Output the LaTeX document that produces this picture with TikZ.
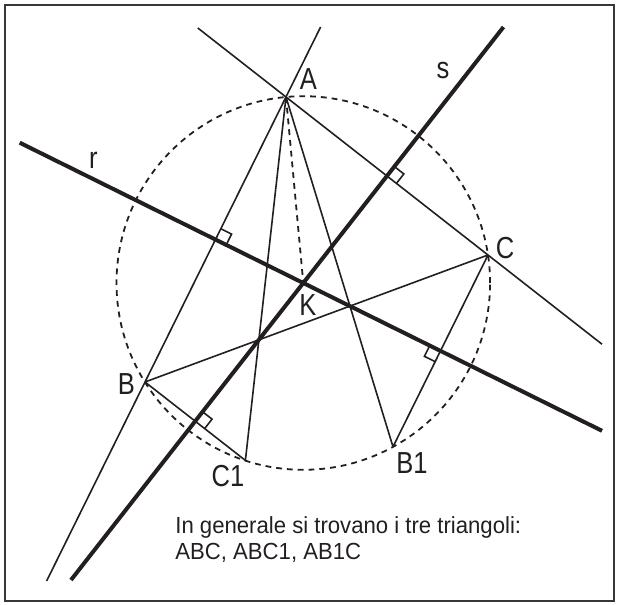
\documentclass[tikz,border=0pt]{standalone}
\usepackage{fontspec}
\setmainfont{Liberation Sans}
\newfontfamily\labelfont{Liberation Sans}[FakeStretch=0.84]
\newfontfamily\notefont{Liberation Sans}[FakeStretch=0.95]
\usetikzlibrary{calc}
\definecolor{ink}{RGB}{35,31,32}
\definecolor{framegray}{RGB}{55,55,55}

\begin{document}
\begin{tikzpicture}[x=0.5pt,y=-0.5pt,
        thin line/.style={draw=ink,line width=0.8pt},
        thick line/.style={draw=ink,line width=2pt},
        dash line/.style={draw=ink,line width=0.9pt,dash pattern=on 2.9pt off 2.5pt},
        lbl/.style={text=ink,font=\labelfont\fontsize{15.2}{18}\selectfont,inner sep=0pt},
        note/.style={text=ink,font=\notefont\fontsize{11.65}{13}\selectfont,inner sep=0pt,anchor=base west}]
        \useasboundingbox (0,0) rectangle (618,605);
        \draw[framegray,line width=0.75pt] (5,5) rectangle (614,601);

        % points of the triangles
        \coordinate (A) at (286,97);
        \coordinate (B) at (145,382);
        \coordinate (C) at (488,255);
        \coordinate (K) at (303.3,283);
        \coordinate (C1) at (245.4,460.4);
        \coordinate (B1) at (393,446.8);

        % ends of the long lines
        \coordinate (abT) at (320.6,27);
        \coordinate (abB) at (46.6,581);
        \coordinate (acT) at (197.8,28);
        \coordinate (acB) at (602,344.2);
        \coordinate (rL) at (19.7,142.7);
        \coordinate (rR) at (602,430.8);
        \coordinate (sT) at (503.5,27);
        \coordinate (sB) at (71,580);

        % feet of the perpendiculars
        \coordinate (mAB) at (215.5,239.5);
        \coordinate (mAC) at (387,176);
        \coordinate (mBC1) at (195.2,421.2);
        \coordinate (mCB1) at (440.5,350.9);

        \draw[dash line] (K) circle[radius=93.4pt];
        \draw[dash line] (A) -- (K);

        \draw[thin line] (abT) -- (abB);
        \draw[thin line] (acT) -- (acB);
        \draw[thin line] (A) -- (C1) (A) -- (B1);
        \draw[thin line] (B) -- (C) (C) -- (B1) (B) -- (C1);

        \draw[thick line] (rL) -- (rR);
        \draw[thick line] (sT) -- (sB);

        % right angle marks
        \foreach \f/\u/\v in {mAB/A/rR, mAC/C/sT, mCB1/B1/rL, mBC1/C1/sT} {
            \coordinate (p) at ($(\f)!6pt!(\u)$);
            \coordinate (q) at ($(\f)!6pt!(\v)$);
            \draw[thin line] (p) -- ($(p)+(q)-(\f)$) -- (q);
        }

        \node[lbl] (lA) at (308.5,79) {A};
        \node[lbl] (ls) at (443,70) {s};
        \node[lbl] (lr) at (93.4,160) {r};
        \node[lbl] (lC) at (505,248) {C};
        \node[lbl] (lK) at (308,305) {K};
        \node[lbl] (lB) at (126.5,384) {B};
        \node[lbl] (lC1) at (228,476.5) {C1};
        \node[lbl] (lB1) at (412,463) {B1};

        \node[note] (note1) at (175,533.3) {In generale si trovano i tre triangoli:};
        \node[note] (note2) at (175,559.3) {ABC, ABC1, AB1C};
    \end{tikzpicture}
\end{document}
